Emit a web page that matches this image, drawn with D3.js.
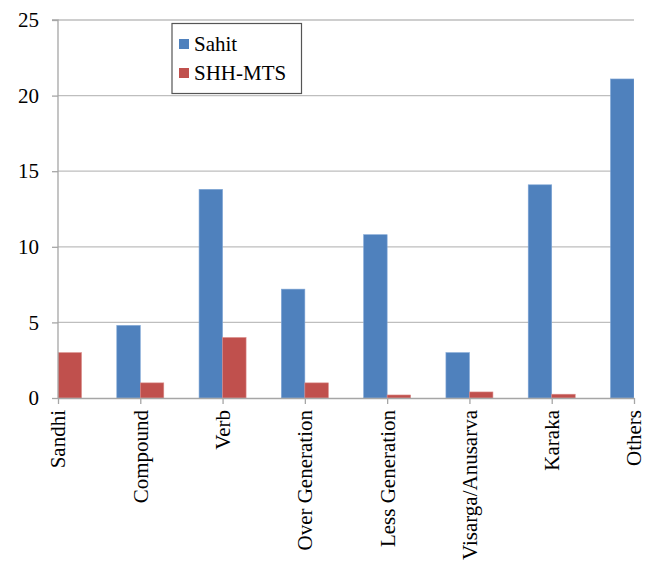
<!DOCTYPE html>
<html>
<head>
<meta charset="utf-8">
<script src="https://cdn.jsdelivr.net/npm/d3@7"></script>
<style>
  html, body { margin: 0; padding: 0; background: #fff; }
  svg { display: block; }
  svg text { font-family: "Liberation Serif", "Times New Roman", serif; }
</style>
</head>
<body>
<svg id="chart" width="650" height="564"></svg>
<script>
// Error categories and counts per system
const categories = ["Sandhi", "Compound", "Verb", "Over Generation", "Less Generation", "Visarga/Anusarva", "Karaka", "Others"];
const sahit = [0, 4.8, 13.8, 7.2, 10.8, 3.0, 14.1, 21.1];
const shhMts = [3.0, 1.0, 4.0, 1.0, 0.2, 0.4, 0.25, 0];
const seriesNames = ["Sahit", "SHH-MTS"];
const seriesColors = ["#4F81BD", "#C0504D"];
const yTicks = [0, 5, 10, 15, 20, 25];

const svg = d3.select("#chart");
const serif = '"Liberation Serif", "Times New Roman", serif';
const plot = { left: 58, right: 634, top: 20, bottom: 398 };

// Categories sit on the tick marks: first and last at the plot edges
const x = d3.scalePoint().domain(categories).range([plot.left, plot.right]);
const y = d3.scaleLinear().domain([0, 25]).range([plot.bottom, plot.top]);
const barW = 23.5;

// Clip so bars never spill past the plot edges
svg.append("defs").append("clipPath").attr("id", "plotClip")
  .append("rect").attr("x", plot.left).attr("y", plot.top - 2)
  .attr("width", plot.right - plot.left).attr("height", plot.bottom - plot.top + 2);

// Gridlines
svg.append("g").selectAll("line").data(yTicks.filter(d => d > 0)).join("line")
  .attr("x1", plot.left).attr("x2", plot.right)
  .attr("y1", d => y(d)).attr("y2", d => y(d))
  .attr("stroke", "#BEBEBE").attr("stroke-width", 1.3);

// Bars
const bars = svg.append("g").attr("clip-path", "url(#plotClip)");
[sahit, shhMts].forEach((vals, s) => {
  bars.append("g").selectAll("rect").data(vals).join("rect")
    .attr("x", (d, i) => x(categories[i]) + (s === 0 ? -barW : 0))
    .attr("y", d => y(d))
    .attr("width", barW)
    .attr("height", d => plot.bottom - y(d))
    .attr("fill", seriesColors[s])
    .attr("stroke", d => d > 0 ? (s === 0 ? "#7FA6D6" : "#D98A88") : "none")
    .attr("stroke-width", 0.6);
});

// Y axis
const yAxis = d3.axisLeft(y).tickValues(yTicks).tickSize(6).tickPadding(13).tickFormat(d3.format("d"));
const gy = svg.append("g").attr("transform", `translate(${plot.left},0)`).call(yAxis);
gy.attr("font-family", null);
gy.select(".domain").attr("stroke", "#A6A6A6").attr("stroke-width", 1.3)
  .attr("d", `M-6,${plot.top}H0V${plot.bottom}`);
gy.selectAll(".tick line").attr("stroke", "#A6A6A6").attr("stroke-width", 1.3);
gy.selectAll(".tick text").style("font-family", serif).style("font-size", "21px").attr("fill", "#000");

// X axis
const xAxis = d3.axisBottom(x).tickSize(6).tickSizeOuter(0).tickPadding(10);
const gx = svg.append("g").attr("transform", `translate(0,${plot.bottom})`).call(xAxis);
gx.attr("font-family", null);
gx.select(".domain").attr("stroke", "#A6A6A6").attr("stroke-width", 1.3);
gx.selectAll(".tick line").attr("stroke", "#A6A6A6").attr("stroke-width", 1.3);
gx.selectAll(".tick text")
  .style("font-family", serif).style("font-size", "21px").attr("fill", "#000")
  .attr("text-anchor", "end")
  .attr("transform", "rotate(-90)")
  .attr("x", -12).attr("y", 0).attr("dy", "0.33em");

// Legend
const lg = svg.append("g");
lg.append("rect").attr("x", 172).attr("y", 23.5).attr("width", 129.5).attr("height", 70)
  .attr("fill", "#fff").attr("stroke", "#555").attr("stroke-width", 1.2);
seriesNames.forEach((name, i) => {
  lg.append("rect").attr("x", 179).attr("y", 39 + i * 29).attr("width", 10).attr("height", 10)
    .attr("fill", seriesColors[i]);
  lg.append("text").attr("x", 194).attr("y", 51 + i * 29)
    .style("font-family", serif).style("font-size", "21px").attr("fill", "#000").text(name);
});
</script>
</body>
</html>
